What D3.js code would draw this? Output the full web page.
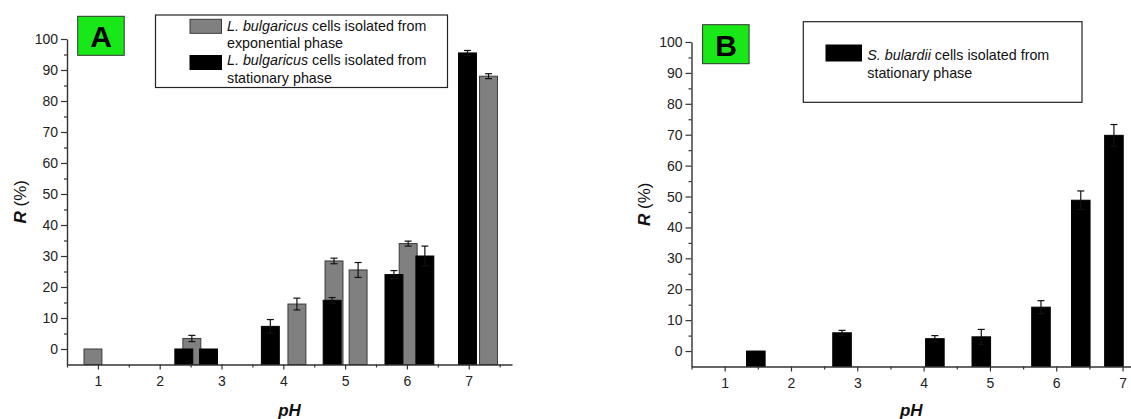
<!DOCTYPE html>
<html><head><meta charset="utf-8">
<script src="https://cdn.jsdelivr.net/npm/d3@7"></script>
<style>body{margin:0;background:#fff}svg{display:block}text{font-family:"Liberation Sans",Arial,sans-serif}</style>
</head><body>
<svg id="c" width="1131" height="419"></svg>
<script>
// ---- data ----
const yTicks = [0,10,20,30,40,50,60,70,80,90,100];
const xTicks = [1,2,3,4,5,6,7];
// Panel A: L. bulgaricus, exponential phase (grey)
const phA_exp  = [0.92, 2.52, 4.22, 4.82, 5.21, 6.02, 7.32];
const valA_exp = [0,    3.4,  14.5, 28.4, 25.5, 34.0, 88.0];
const errA_exp = [0,    1.0,  1.9,  0.9,  2.4,  0.8,  0.8];
// Panel A: L. bulgaricus, stationary phase (black)
const phA_stat  = [2.39, 2.79, 3.79, 4.79, 5.79, 6.29, 6.98];
const valA_stat = [0,    0,    7.3,  15.7, 24.0, 30.0, 95.5];
const errA_stat = [0,    0,    2.2,  0.9,  1.3,  3.2,  0.8];
// Panel B: S. bulardii, stationary phase (black)
const phB  = [1.47, 2.77, 4.17, 4.87, 5.77, 6.37, 6.87];
const valB = [0,    5.9,  4.0,  4.6,  14.2, 48.8, 69.8];
const errB = [0,    0.8,  1.0,  2.4,  2.1,  3.0,  3.5];

const svg = d3.select("#c");
const AX = "#333";

function panel(cfg){
  const g = svg.append("g");
  const x = d3.scaleLinear().domain(cfg.xd).range(cfg.xr);
  const y = d3.scaleLinear().domain([-5,100]).range(cfg.yr);
  const bw = cfg.bw;
  // bars
  cfg.series.forEach(s=>{
    const d = s.ph.map((p,i)=>({p, v:s.val[i], e:s.err[i]}));
    g.append("g").selectAll("rect").data(d).join("rect")
      .attr("x", dd=>x(dd.p - bw/2)).attr("width", x(bw)-x(0))
      .attr("y", dd=>y(dd.v)).attr("height", dd=>y(-5)-y(dd.v))
      .attr("fill", s.fill).attr("stroke", s.stroke).attr("stroke-width", 1);
  });
  // error bars
  cfg.series.forEach(s=>{
    const d = s.ph.map((p,i)=>({p, v:s.val[i], e:s.err[i]})).filter(dd=>dd.e>0);
    const eg = g.append("g").attr("stroke","#111").attr("stroke-width",1.2);
    d.forEach(dd=>{
      const cx = x(dd.p);
      eg.append("line").attr("x1",cx).attr("x2",cx).attr("y1",y(dd.v-dd.e)).attr("y2",y(dd.v+dd.e));
      [dd.v-dd.e, dd.v+dd.e].forEach(t=>{
        eg.append("line").attr("x1",cx-3.5).attr("x2",cx+3.5).attr("y1",y(t)).attr("y2",y(t));
      });
    });
  });
  // y axis
  g.append("g").attr("transform",`translate(${cfg.xr[0]},0)`)
    .call(d3.axisLeft(y).tickValues(yTicks).tickFormat(d3.format("d")).tickSize(6).tickPadding(3).tickSizeOuter(0));
  g.append("g").attr("transform",`translate(${cfg.xr[0]},0)`)
    .call(d3.axisLeft(y).tickValues(d3.range(5,100,10)).tickSize(3).tickFormat("").tickSizeOuter(0))
    .select(".domain").remove();
  // x axis
  g.append("g").attr("transform",`translate(0,${y(-5)})`)
    .call(d3.axisBottom(x).tickValues(xTicks).tickFormat(d3.format("d")).tickSize(5).tickPadding(7).tickSizeOuter(0));
  g.append("g").attr("transform",`translate(0,${y(-5)})`)
    .call(d3.axisBottom(x).tickValues(d3.range(0.5,7.6,1)).tickSize(3).tickFormat("").tickSizeOuter(0))
    .select(".domain").remove();
  g.selectAll(".tick line").attr("stroke",AX).attr("stroke-width",1.2);
  g.selectAll(".domain").attr("stroke",AX).attr("stroke-width",1.4);
  g.selectAll(".tick text").attr("font-size",14).attr("fill","#222")
    .style("font-family",'"Liberation Sans",Arial,sans-serif');
  // axis titles
  g.append("text").attr("x",(cfg.xr[0]+Math.min(cfg.xr[1],1131))/2).attr("y",415.5)
    .attr("text-anchor","middle").attr("font-size",17).attr("font-weight","bold").attr("font-style","italic")
    .attr("fill","#111").text("pH");
  const yt = g.append("text").attr("transform",`translate(${cfg.ylx},${(cfg.yr[0]+cfg.yr[1])/2}) rotate(-90)`)
    .attr("text-anchor","middle").attr("font-size",17).attr("fill","#111");
  yt.append("tspan").attr("font-weight","bold").attr("font-style","italic").text("R");
  yt.append("tspan").text(" (%)");
  // panel label
  g.append("rect").attr("x",cfg.lab[0]).attr("y",cfg.lab[1]).attr("width",46.5).attr("height",39)
    .attr("fill","#18e818").attr("stroke","#333").attr("stroke-width",1);
  g.append("text").attr("x",cfg.lab[0]+23.5).attr("y",cfg.lab[1]+31)
    .attr("text-anchor","middle").attr("font-size",30).attr("font-weight","bold").attr("fill","#000").text(cfg.name);
  // legend
  const L = cfg.leg;
  g.append("rect").attr("x",L.box[0]).attr("y",L.box[1]).attr("width",L.box[2]).attr("height",L.box[3])
    .attr("fill","#fff").attr("stroke","#222").attr("stroke-width",1.2);
  L.items.forEach(it=>{
    g.append("rect").attr("x",it.sw[0]).attr("y",it.sw[1]).attr("width",it.sw[2]).attr("height",it.sw[3])
      .attr("fill",it.fill).attr("stroke",it.stroke).attr("stroke-width",1);
    const t1 = g.append("text").attr("x",L.tx).attr("y",it.b1).attr("font-size",14.3).attr("fill","#111");
    t1.append("tspan").attr("font-style","italic").text(it.sp);
    t1.append("tspan").text(" cells isolated from");
    g.append("text").attr("x",L.tx).attr("y",it.b1+L.lh).attr("font-size",14.3).attr("fill","#111").text(it.l2);
  });
}

panel({
  name:"A", xd:[0.5,7.7], xr:[67,512], yr:[364.5,39], bw:0.29, ylx:26,
  lab:[77.7,16.3],
  series:[
    {ph:phA_exp, val:valA_exp, err:errA_exp, fill:"#808080", stroke:"#3a3a3a"},
    {ph:phA_stat, val:valA_stat, err:errA_stat, fill:"#000", stroke:"#000"}
  ],
  leg:{box:[155.5,15,292,72.5], tx:227, lh:17.4,
    items:[
      {sw:[190,19.3,31.5,14], fill:"#808080", stroke:"#3a3a3a", sp:"L. bulgaricus", b1:30.5, l2:"exponential phase"},
      {sw:[190,55.5,31.5,14], fill:"#000", stroke:"#000", sp:"L. bulgaricus", b1:65.4, l2:"stationary phase"}
    ]}
});
panel({
  name:"B", xd:[0.5,7.15], xr:[691.5,1132.5], yr:[366.5,42], bw:0.28, ylx:650,
  lab:[702.6,24.7],
  series:[
    {ph:phB, val:valB, err:errB, fill:"#000", stroke:"#000"}
  ],
  leg:{box:[803.3,21.7,278.7,80.6], tx:867.3, lh:18.3,
    items:[
      {sw:[826,45,35.5,16], fill:"#000", stroke:"#000", sp:"S. bulardii", b1:60, l2:"stationary phase"}
    ]}
});
</script>
</body></html>
